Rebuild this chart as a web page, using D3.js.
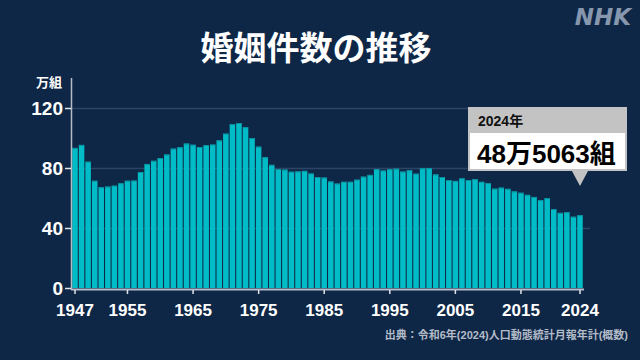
<!DOCTYPE html>
<html>
<head>
<meta charset="utf-8">
<script src="https://cdn.jsdelivr.net/npm/d3@7"></script>
<style>
  html, body { margin: 0; padding: 0; background: #0f2747; }
  svg { display: block; }
  text { font-family: "Liberation Sans", "Noto Sans CJK JP", sans-serif; }
</style>
</head>
<body>
<div class="chart"></div>
<script>
/* Data: 婚姻件数 (万組) */
const years = d3.range(1947, 2025)
const marriages = [
  93.4, 95.4, 84.2, 71.5, 67.2, 67.6, 68.2, 69.8, 71.5, 71.6,
  77.3, 82.7, 84.8, 86.6, 89.0, 92.9, 93.8, 96.3, 95.5, 94.0,
  95.3, 95.6, 98.4, 102.9, 109.2, 110.0, 107.2, 100.0, 94.2, 87.2,
  82.1, 79.3, 78.9, 77.5, 77.7, 78.1, 76.3, 74.0, 73.6, 71.0,
  69.6, 70.8, 70.8, 72.2, 74.2, 75.4, 79.3, 78.3, 79.2, 79.5,
  77.6, 78.5, 76.2, 79.8, 80.0, 75.7, 74.0, 72.0, 71.4, 73.1,
  72.0, 72.6, 70.8, 70.0, 66.2, 66.9, 66.1, 64.4, 63.5, 62.1,
  60.7, 58.6, 59.9, 52.6, 50.1, 50.5, 47.5, 48.5,
]
const xTicks = [1947, 1955, 1965, 1975, 1985, 1995, 2005, 2015, 2024]
const yTicks = [0, 40, 80, 120]

const title = '婚姻件数の推移'
const unitLabel = '万組'
const calloutYear = '2024年'
const calloutValue = '48万5063組'
const source = '出典：令和6年(2024)人口動態統計月報年計(概数)'

/* Configuration */
const width = 640
const height = 360

const data = years.map((y, i) => ({ year: y, value: marriages[i] }))

const svg = d3
  .select('.chart')
  .append('svg')
  .attr('width', width)
  .attr('height', height)
  .attr('viewBox', [0, 0, width, height])

svg.append('rect')
  .attr('width', width)
  .attr('height', height)
  .attr('fill', '#0f2747')

const x = d3.scaleBand()
  .domain(years)
  .range([72, 583])
  .paddingInner(0.16)
  .paddingOuter(0.04)

const y = d3.scaleLinear()
  .domain([0, 120])
  .range([288, 108])

// Title
svg.append('text')
  .attr('x', 316)
  .attr('y', 60)
  .attr('text-anchor', 'middle')
  .attr('fill', '#fff')
  .attr('font-size', 33)
  .attr('font-weight', 700)
  .style('font-family', '"Noto Sans CJK JP", sans-serif')
  .text(title)

// NHK logo
svg.append('text')
  .attr('x', 631)
  .attr('y', 25)
  .attr('text-anchor', 'end')
  .attr('fill', '#8797ad')
  .attr('font-size', 23)
  .attr('font-weight', 700)
  .attr('font-style', 'italic')
  .style('font-family', '"DejaVu Sans", sans-serif')
  .text('NHK')

// Grid lines
svg.append('g')
  .selectAll('line')
  .data(yTicks.filter(d => d > 0))
  .join('line')
  .attr('x1', 71)
  .attr('x2', 590)
  .attr('y1', d => y(d) + 0.5)
  .attr('y2', d => y(d) + 0.5)
  .attr('stroke', '#2c4466')
  .attr('stroke-width', 1.5)

// Bars
const bars = svg.append('g')
bars.selectAll('rect')
  .data(data)
  .join('rect')
  .attr('x', d => x(d.year))
  .attr('y', d => y(d.value))
  .attr('width', x.bandwidth())
  .attr('height', d => y(0) - y(d.value))
  .attr('fill', '#00bcc6')
bars.selectAll('line')
  .data(data)
  .join('line')
  .attr('x1', d => x(d.year))
  .attr('x2', d => x(d.year) + x.bandwidth())
  .attr('y1', d => y(d.value) + 0.5)
  .attr('y2', d => y(d.value) + 0.5)
  .attr('stroke', '#0a8f9c')
  .attr('stroke-width', 1)

// Y axis
const yAxis = svg.append('g')
yAxis.append('line')
  .attr('x1', 71.5).attr('x2', 71.5)
  .attr('y1', 78).attr('y2', 290)
  .attr('stroke', '#b4bcc8')
  .attr('stroke-width', 1.5)
yAxis.selectAll('.tick')
  .data(yTicks)
  .join('line')
  .attr('x1', 65).attr('x2', 71)
  .attr('y1', d => y(d) + 0.5)
  .attr('y2', d => y(d) + 0.5)
  .attr('stroke', '#e0e4ea')
  .attr('stroke-width', 1.5)
yAxis.selectAll('text')
  .data(yTicks)
  .join('text')
  .attr('x', 63)
  .attr('y', d => y(d))
  .attr('dy', '0.36em')
  .attr('text-anchor', 'end')
  .attr('fill', '#fff')
  .attr('font-size', 19)
  .attr('font-weight', 700)
  .text(d => d)

svg.append('text')
  .attr('x', 36)
  .attr('y', 87)
  .attr('fill', '#fff')
  .attr('font-size', 13)
  .attr('font-weight', 700)
  .style('font-family', '"Noto Sans CJK JP", sans-serif')
  .text(unitLabel)

// X axis
const xAxis = svg.append('g')
xAxis.append('line')
  .attr('x1', 71).attr('x2', 584)
  .attr('y1', 289.5).attr('y2', 289.5)
  .attr('stroke', '#b4bcc8')
  .attr('stroke-width', 2)
xAxis.selectAll('line.tick')
  .data(xTicks)
  .join('line')
  .attr('class', 'tick')
  .attr('x1', d => x(d) + x.bandwidth() / 2)
  .attr('x2', d => x(d) + x.bandwidth() / 2)
  .attr('y1', 290).attr('y2', 294)
  .attr('stroke', '#e0e4ea')
  .attr('stroke-width', 1.5)
xAxis.selectAll('text')
  .data(xTicks)
  .join('text')
  .attr('x', d => x(d) + x.bandwidth() / 2)
  .attr('y', 316)
  .attr('text-anchor', 'middle')
  .attr('fill', '#fff')
  .attr('font-size', 17)
  .attr('font-weight', 700)
  .text(d => d)

// Callout for last bar
const last = data[data.length - 1]
const cx = x(last.year) + x.bandwidth() / 2
const callout = svg.append('g')
callout.append('rect')
  .attr('x', 468).attr('y', 107)
  .attr('width', 159).attr('height', 64)
  .attr('fill', '#c3c3c3')
callout.append('rect')
  .attr('x', 470).attr('y', 133)
  .attr('width', 155).attr('height', 36)
  .attr('fill', '#fff')
callout.append('path')
  .attr('d', `M${cx - 8},171 L${cx + 8},171 L${cx},186 Z`)
  .attr('fill', '#c3c3c3')
callout.append('text')
  .attr('x', 478).attr('y', 126)
  .attr('fill', '#111')
  .attr('font-size', 14)
  .attr('font-weight', 700)
  .text(calloutYear)
callout.append('text')
  .attr('x', 477).attr('y', 163)
  .attr('fill', '#000')
  .attr('font-size', 26)
  .attr('font-weight', 700)
  .text(calloutValue)

// Source
svg.append('text')
  .attr('x', 628)
  .attr('y', 339)
  .attr('text-anchor', 'end')
  .attr('fill', '#b3bcc8')
  .attr('font-size', 11)
  .attr('font-weight', 700)
  .text(source)
</script>
</body>
</html>
